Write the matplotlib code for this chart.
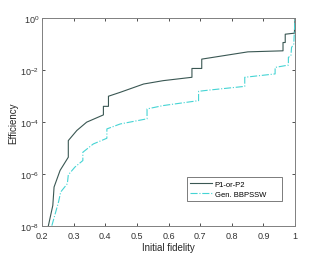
import matplotlib
matplotlib.use("Agg")
import matplotlib.pyplot as plt
import matplotlib.ticker as mticker

plt.rcParams['font.family'] = ['Liberation Sans', 'DejaVu Sans']

# P1-or-P2 curve: initial fidelity vs log10(efficiency)
p12_fid = [0.220, 0.234, 0.238, 0.257, 0.283, 0.283, 0.310, 0.341, 0.394, 0.394,
           0.410, 0.410, 0.447, 0.521, 0.583, 0.674, 0.674, 0.705, 0.705, 0.851,
           0.962, 0.962, 0.969, 0.969, 0.998, 1.000]
p12_log = [-8.0, -7.22, -6.51, -5.87, -5.36, -4.72, -4.33, -4.01, -3.73, -3.40,
           -3.40, -3.01, -2.86, -2.54, -2.41, -2.28, -1.94, -1.94, -1.58, -1.30,
           -1.26, -0.94, -0.94, -0.62, -0.58, 0.0]

# Gen. BBPSSW curve
bb_fid = [0.231, 0.252, 0.259, 0.280, 0.283, 0.304, 0.329, 0.329, 0.362, 0.405,
          0.405, 0.447, 0.532, 0.532, 0.583, 0.695, 0.695, 0.731, 0.841, 0.841,
          0.937, 0.937, 0.979, 0.979, 0.987, 0.989, 0.996, 1.000]
bb_log = [-8.0, -7.09, -6.70, -6.38, -6.04, -5.74, -5.49, -5.17, -4.85, -4.63,
          -4.27, -4.08, -3.88, -3.50, -3.37, -3.18, -2.82, -2.77, -2.63, -2.28,
          -2.15, -1.90, -1.81, -1.51, -1.45, -1.13, -1.0, 0.0]

fig = plt.figure(figsize=(3.26, 2.55), dpi=100)
ax = fig.add_axes([0.129, 0.111, 0.776, 0.814])

ax.plot(p12_fid, [10 ** v for v in p12_log], color='#3a5753', linewidth=0.8,
        label='P1-or-P2')
ax.plot(bb_fid, [10 ** v for v in bb_log], color='#45d4d4', linewidth=0.8,
        linestyle='-.', label='Gen. BBPSSW' + ' ' * 6)

ax.set_yscale('log')
ax.set_xlim(0.2, 1.0)
ax.set_ylim(1e-8, 1e0)
ax.set_xticks([0.2, 0.3, 0.4, 0.5, 0.6, 0.7, 0.8, 0.9, 1.0])
ax.set_xticklabels(['0.2', '0.3', '0.4', '0.5', '0.6', '0.7', '0.8', '0.9', '1'])
ax.set_yticks([1e-8, 1e-6, 1e-4, 1e-2, 1e0])
ax.yaxis.set_minor_locator(mticker.NullLocator())
ax.tick_params(direction='in', top=True, right=True, length=2.5, width=0.6,
               labelsize=6.5, colors='#333333')
ax.tick_params(axis='x', pad=3.5)
ax.tick_params(axis='y', pad=2)
for s in ax.spines.values():
    s.set_color('#808080')
    s.set_linewidth(0.7)

ax.set_xlabel('Initial fidelity', fontsize=7, color='#262626', labelpad=1.5)
ax.set_ylabel('Efficiency', fontsize=7, color='#262626', labelpad=1)

leg = ax.legend(loc='lower left', bbox_to_anchor=(0.572, 0.119), fontsize=5.5,
                frameon=True, fancybox=False, handlelength=2.8,
                borderpad=0.45, labelspacing=0.35, handletextpad=0.4,
                borderaxespad=0)
leg.get_frame().set_edgecolor('#404040')
leg.get_frame().set_linewidth(0.6)

fig.savefig('out.png', dpi=100)
